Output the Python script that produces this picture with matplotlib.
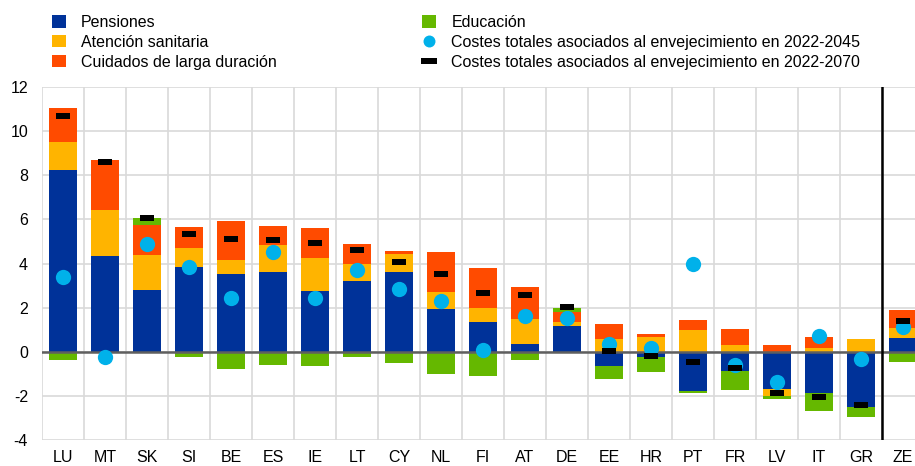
import numpy as np
import matplotlib
matplotlib.use("Agg")
import matplotlib.pyplot as plt
from matplotlib.patches import Patch
from matplotlib.lines import Line2D

plt.rcParams["font.family"] = ["Liberation Sans", "DejaVu Sans"]
plt.rcParams["axes.unicode_minus"] = False

countries = ["LU", "MT", "SK", "SI", "BE", "ES", "IE", "LT", "CY", "NL", "FI",
             "AT", "DE", "EE", "HR", "PT", "FR", "LV", "IT", "GR", "ZE"]

pensiones = [8.25, 4.34, 2.80, 3.83, 3.52, 3.60, 2.77, 3.21, 3.62, 1.95, 1.35,
             0.35, 1.16, -0.65, -0.23, -1.79, -0.88, -1.69, -1.89, -2.51, 0.62]
sanitaria = [1.24, 2.09, 1.59, 0.86, 0.64, 1.23, 1.47, 0.79, 0.82, 0.76, 0.64,
             1.13, 0.18, 0.56, 0.67, 1.00, 0.30, -0.32, 0.15, 0.57, 0.45]
larga_duracion = [1.55, 2.27, 1.36, 0.95, 1.76, 0.86, 1.36, 0.89, 0.14, 1.82, 1.80,
                  1.45, 0.45, 0.71, 0.13, 0.44, 0.73, 0.29, 0.50, 0.00, 0.82]
educacion = [-0.38, -0.07, 0.30, -0.26, -0.79, -0.61, -0.66, -0.23, -0.50, -1.01, -1.09,
             -0.38, 0.21, -0.58, -0.71, -0.10, -0.87, -0.14, -0.79, -0.46, -0.48]
costes_2045 = [3.40, -0.23, 4.87, 3.86, 2.45, 4.51, 2.42, 3.71, 2.83, 2.31, 0.08,
               1.63, 1.51, 0.33, 0.15, 3.99, -0.61, -1.39, 0.73, -0.33, 1.13]
costes_2070 = [10.67, 8.62, 6.08, 5.34, 5.10, 5.07, 4.95, 4.63, 4.07, 3.51, 2.68,
               2.56, 2.04, 0.04, -0.17, -0.45, -0.72, -1.88, -2.04, -2.41, 1.39]

labels = ["Pensiones", "Atención sanitaria", "Cuidados de larga duración", "Educación",
          "Costes totales asociados al envejecimiento en 2022-2045",
          "Costes totales asociados al envejecimiento en 2022-2070"]
colors = ["#003299", "#FFB400", "#FF4B00", "#65B800", "#00B1EA", "#000000"]

W, H = 915, 466
fig = plt.figure(figsize=(W / 100, H / 100), dpi=100)
ax = fig.add_axes([42 / W, 26 / H, 882 / W, 353 / H])

x = np.arange(len(countries))
pos_base = np.zeros(len(countries))
neg_base = np.zeros(len(countries))
for vals, col in zip([pensiones, sanitaria, larga_duracion, educacion], colors[:4]):
    v = np.asarray(vals, dtype=float)
    bottom = np.where(v >= 0, pos_base, neg_base)
    ax.bar(x, v, bottom=bottom, width=0.667, color=col, linewidth=0, zorder=3)
    pos_base += np.where(v >= 0, v, 0)
    neg_base += np.where(v < 0, v, 0)

ax.plot(x, costes_2045, linestyle="none", marker="o", markersize=11,
        color=colors[4], markeredgewidth=0, zorder=5)
dash = [(-1, -0.4), (1, -0.4), (1, 0.4), (-1, 0.4), (-1, -0.4)]
ax.plot(x, costes_2070, linestyle="none", marker=dash, markersize=10,
        color=colors[5], markeredgewidth=0, zorder=6)

ax.axhline(0, color="#5f5f5f", linewidth=1.8, zorder=4)
ax.axvline(19.5, color="black", linewidth=1.8, zorder=4)

ax.set_xlim(-0.5, len(countries) - 0.5)
ax.set_ylim(-4, 12)
ax.set_yticks(np.arange(-4, 13, 2))
ax.set_xticks(x)
ax.set_xticklabels(countries)
for yv in np.arange(-4, 13, 2):
    ax.axhline(yv, color="#d9d9d9", linewidth=1.2, zorder=1)
for xv in np.arange(-0.5, len(countries), 1):
    ax.axvline(xv, color="#d9d9d9", linewidth=1.2, zorder=1)
for s in ax.spines.values():
    s.set_visible(False)
ax.tick_params(axis="both", which="both", length=0, labelsize=11.5, colors="black")
ax.tick_params(axis="y", pad=10)
ax.tick_params(axis="x", pad=7)

handles = [Patch(facecolor=c, edgecolor="none") for c in colors[:4]]
handles.append(Line2D([], [], linestyle="none", marker="o", markersize=8.6,
                      color=colors[4], markeredgewidth=0))
legend_dash = [(-1, -0.33), (1, -0.33), (1, 0.33), (-1, 0.33), (-1, -0.33)]
handles.append(Line2D([], [], linestyle="none", marker=legend_dash, markersize=11.5,
                      color=colors[5], markeredgewidth=0))
fig.legend(handles, labels,
           loc="upper left", bbox_to_anchor=(44 / W, 1 - 7 / H), ncol=2,
           frameon=False, fontsize=11.5, handlelength=0.875, handleheight=0.8,
           handletextpad=0.95, labelspacing=0.3, columnspacing=9.1, borderpad=0)

fig.savefig("out.png", dpi=100)
